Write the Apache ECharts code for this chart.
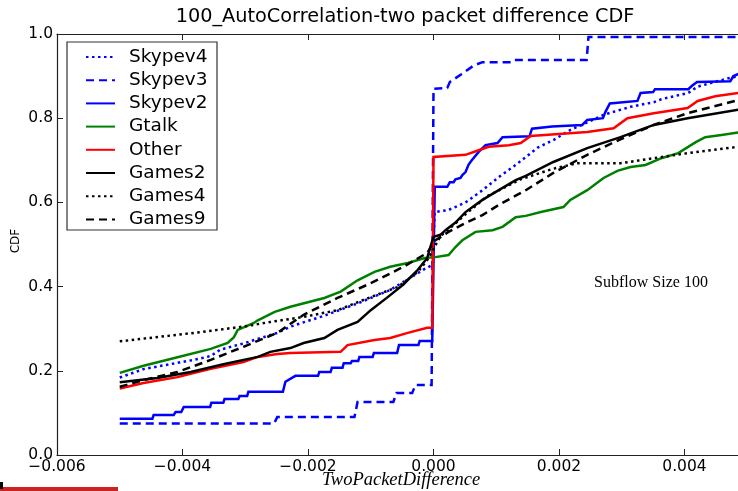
<!DOCTYPE html>
<html>
<head>
<meta charset="utf-8">
<script src="https://cdn.jsdelivr.net/npm/echarts@6/dist/echarts.min.js"></script>
<style>
  html, body { margin: 0; padding: 0; background: #fff; }
  #chart { width: 738px; height: 491px; }
</style>
</head>
<body>
<div id="chart"></div>
<script>
// CDF of the two-packet difference, subflow size 100: [difference, cumulative fraction]
const skypev4 = [
  [-0.005, 0.184], [-0.00462, 0.204], [-0.00408, 0.219], [-0.00382, 0.226], [-0.00355, 0.235],
  [-0.0034, 0.25], [-0.00303, 0.265], [-0.00249, 0.29], [-0.00228, 0.305], [-0.00174, 0.331],
  [-0.00121, 0.36], [-0.00069, 0.392], [-0.00014, 0.442], [-0.00002, 0.451], [0.00002, 0.577],
  [0.00024, 0.582], [0.00051, 0.6], [0.00078, 0.629], [0.00104, 0.66], [0.00131, 0.689],
  [0.00166, 0.73], [0.00191, 0.748], [0.00218, 0.772], [0.00245, 0.79], [0.00271, 0.808],
  [0.00298, 0.82], [0.00314, 0.827], [0.00351, 0.838], [0.00363, 0.845], [0.00406, 0.86],
  [0.00421, 0.875], [0.0047, 0.895], [0.00486, 0.9]
];
const skypev3 = [
  [-0.005, 0.075], [-0.00254, 0.075], [-0.00249, 0.09], [-0.00126, 0.09], [-0.00121, 0.126],
  [-0.00064, 0.126], [-0.00059, 0.147], [-0.00034, 0.147], [-0.00029, 0.166], [-0.00003, 0.166],
  [0.0, 0.87], [0.00022, 0.872], [0.00026, 0.886], [0.00045, 0.905], [0.00064, 0.925],
  [0.00078, 0.933], [0.00124, 0.933], [0.00128, 0.938], [0.00244, 0.938], [0.00247, 0.993],
  [0.00486, 0.993]
];
const skypev2 = [
  [-0.005, 0.086], [-0.00448, 0.086], [-0.00446, 0.095], [-0.00414, 0.095], [-0.00411, 0.102],
  [-0.00402, 0.102], [-0.00398, 0.114], [-0.00356, 0.114], [-0.00354, 0.124], [-0.00335, 0.124],
  [-0.00333, 0.133], [-0.00311, 0.133], [-0.00309, 0.14], [-0.00297, 0.14], [-0.00295, 0.15],
  [-0.0024, 0.15], [-0.00236, 0.174], [-0.0022, 0.188], [-0.00184, 0.188], [-0.00182, 0.197],
  [-0.00164, 0.197], [-0.00162, 0.207], [-0.00145, 0.207], [-0.00143, 0.218], [-0.00132, 0.218],
  [-0.0013, 0.223], [-0.0012, 0.223], [-0.00118, 0.233], [-0.00097, 0.233], [-0.00095, 0.242],
  [-0.00058, 0.242], [-0.00055, 0.261], [-0.00024, 0.261], [-0.00022, 0.271], [-0.00002, 0.271],
  [0.00002, 0.637], [0.00022, 0.637], [0.00026, 0.648], [0.00032, 0.648], [0.00035, 0.655],
  [0.00043, 0.658], [0.00046, 0.665], [0.00051, 0.672], [0.00056, 0.69], [0.00061, 0.7],
  [0.00072, 0.72], [0.00083, 0.736], [0.00102, 0.741], [0.0011, 0.755], [0.00153, 0.757],
  [0.00157, 0.775], [0.00189, 0.78], [0.00237, 0.784], [0.00245, 0.796], [0.0027, 0.8],
  [0.00274, 0.815], [0.00281, 0.835], [0.00325, 0.841], [0.0033, 0.86], [0.0035, 0.862],
  [0.00353, 0.869], [0.00406, 0.869], [0.00412, 0.877], [0.0042, 0.886], [0.00473, 0.888],
  [0.00478, 0.9], [0.00486, 0.905]
];
const gtalk = [
  [-0.005, 0.195], [-0.00462, 0.212], [-0.00408, 0.232], [-0.00355, 0.252], [-0.00328, 0.266],
  [-0.00318, 0.28], [-0.00312, 0.297], [-0.00287, 0.313], [-0.0028, 0.32], [-0.00253, 0.34],
  [-0.00228, 0.352], [-0.00174, 0.373], [-0.00148, 0.388], [-0.00121, 0.415], [-0.00094, 0.435],
  [-0.00069, 0.447], [-0.00041, 0.456], [-0.00014, 0.468], [0.00003, 0.47], [0.00024, 0.475],
  [0.00035, 0.494], [0.00046, 0.51], [0.00067, 0.53], [0.00094, 0.534], [0.0011, 0.542],
  [0.00131, 0.565], [0.00147, 0.568], [0.00171, 0.577], [0.00207, 0.589], [0.00218, 0.606],
  [0.00245, 0.629], [0.00271, 0.658], [0.00293, 0.675], [0.00314, 0.684], [0.00338, 0.689],
  [0.00363, 0.705], [0.0039, 0.717], [0.00418, 0.743], [0.00433, 0.755], [0.00459, 0.76],
  [0.00486, 0.766]
];
const other = [
  [-0.005, 0.158], [-0.00462, 0.171], [-0.00408, 0.185], [-0.00355, 0.205], [-0.00303, 0.221],
  [-0.0028, 0.233], [-0.00249, 0.24], [-0.00228, 0.242], [-0.00148, 0.245], [-0.00137, 0.261],
  [-0.00094, 0.273], [-0.00069, 0.278], [-0.00041, 0.29], [-0.0001, 0.302], [-0.00002, 0.302],
  [0.0, 0.708], [0.00051, 0.713], [0.00072, 0.724], [0.00088, 0.732], [0.0012, 0.736],
  [0.00139, 0.741], [0.00155, 0.758], [0.00245, 0.767], [0.00287, 0.776], [0.00309, 0.8],
  [0.00351, 0.812], [0.00405, 0.824], [0.00421, 0.841], [0.00449, 0.852], [0.00486, 0.86]
];
const games2 = [
  [-0.005, 0.173], [-0.0044, 0.183], [-0.00387, 0.197], [-0.00333, 0.216], [-0.0028, 0.233],
  [-0.0026, 0.245], [-0.00228, 0.254], [-0.00207, 0.266], [-0.00174, 0.278], [-0.00153, 0.297],
  [-0.00121, 0.316], [-0.001, 0.344], [-0.00073, 0.375], [-0.00048, 0.405], [-0.00025, 0.44],
  [-0.0001, 0.468], [-0.00005, 0.494], [0.0, 0.518], [0.00011, 0.523], [0.00019, 0.534],
  [0.00035, 0.552], [0.00051, 0.577], [0.00078, 0.606], [0.00104, 0.629], [0.00131, 0.653],
  [0.00147, 0.663], [0.00191, 0.696], [0.00245, 0.729], [0.00298, 0.755], [0.00351, 0.784],
  [0.00405, 0.8], [0.00486, 0.82]
];
const games4 = [
  [-0.005, 0.27], [-0.00382, 0.29], [-0.00303, 0.305], [-0.0026, 0.316], [-0.00207, 0.328],
  [-0.00153, 0.344], [-0.001, 0.375], [-0.00057, 0.399], [-0.00025, 0.435], [-0.0001, 0.463],
  [0.0, 0.49], [0.00011, 0.52], [0.00035, 0.55], [0.00051, 0.572], [0.00086, 0.615],
  [0.00139, 0.655], [0.00191, 0.68], [0.00229, 0.693], [0.00298, 0.693], [0.00351, 0.705],
  [0.00405, 0.717], [0.00486, 0.732]
];
const games9 = [
  [-0.005, 0.162], [-0.00462, 0.178], [-0.00408, 0.197], [-0.00355, 0.226], [-0.00303, 0.257],
  [-0.00249, 0.29], [-0.00207, 0.333], [-0.00153, 0.373], [-0.001, 0.408], [-0.00048, 0.447],
  [-0.0001, 0.48], [0.00003, 0.51], [0.00024, 0.53], [0.00051, 0.551], [0.00078, 0.57],
  [0.00104, 0.594], [0.00147, 0.629], [0.00191, 0.67], [0.00245, 0.713], [0.00298, 0.75],
  [0.00351, 0.784], [0.00405, 0.812], [0.00486, 0.843]
];

const seriesNames = ['Skypev4', 'Skypev3', 'Skypev2', 'Gtalk', 'Other', 'Games2', 'Games4', 'Games9'];
const seriesData = [skypev4, skypev3, skypev2, gtalk, other, games2, games4, games9];
const seriesColors = ['#0000ff', '#0000ff', '#0000ff', '#008000', '#ff0000', '#000000', '#000000', '#000000'];
const DOTTED = [2.5, 3.5];
const DASHED = [8, 5];
const seriesDash = [DOTTED, DASHED, 'solid', 'solid', 'solid', 'solid', DOTTED, DASHED];

const xTicks = { min: -0.006, max: 0.006, step: 0.002 };
const yTicks = { min: 0, max: 1, step: 0.2 };

const fmtX = v => {
  if (Math.abs(v) < 1e-9) return '0.000';
  return (v < 0 ? '\u2212' : '') + Math.abs(v).toFixed(3);
};

const chart = echarts.init(document.getElementById('chart'), null, { renderer: 'canvas' });

const axisLine = { show: true, onZero: false, lineStyle: { color: '#222', width: 1.2 } };
const innerTick = { show: true, inside: true, length: 6, lineStyle: { color: '#222' } };

chart.setOption({
  animation: false,
  backgroundColor: '#fff',
  // the plot box runs past the right edge of the canvas (the 0.006 end is off-screen)
  grid: { left: 57, top: 34, width: 753, height: 421, containLabel: false, outerBoundsMode: 'none' },
  xAxis: [
    {
      type: 'value', position: 'bottom',
      min: xTicks.min, max: xTicks.max, interval: xTicks.step,
      axisLine: axisLine,
      axisTick: innerTick,
      axisLabel: { formatter: fmtX, fontFamily: 'DejaVu Sans', fontSize: 15.5, color: '#000', margin: 4 },
      splitLine: { show: false }
    },
    {
      type: 'value', position: 'top',
      min: xTicks.min, max: xTicks.max, interval: xTicks.step,
      axisLine: axisLine,
      axisTick: innerTick,
      axisLabel: { show: false },
      splitLine: { show: false }
    }
  ],
  yAxis: {
    type: 'value',
    min: yTicks.min, max: yTicks.max, interval: yTicks.step,
    axisLine: axisLine,
    axisTick: innerTick,
    axisLabel: { formatter: v => v.toFixed(1), fontFamily: 'DejaVu Sans', fontSize: 15.5, color: '#000', margin: 4 },
    splitLine: { show: false }
  },
  legend: {
    orient: 'vertical',
    left: 80, top: 42.5,
    itemWidth: 29, itemHeight: 14, itemGap: 4.2,
    selectedMode: false,
    itemStyle: { opacity: 0 },
    textStyle: { fontFamily: 'DejaVu Sans', fontSize: 18.5, color: '#000', padding: [0, 0, 0, 9] },
    data: seriesNames
  },
  graphic: [
    { type: 'rect', z: 1, shape: { x: 67, y: 42, width: 150, height: 188 },
      style: { fill: 'none', stroke: '#333', lineWidth: 1.2 } },
    { type: 'text', x: 405, y: 17, style: { text: '100_AutoCorrelation-two packet difference CDF',
      fontFamily: 'DejaVu Sans', fontSize: 19.3, fill: '#000', align: 'center', verticalAlign: 'middle' } },
    { type: 'text', x: 401, y: 480, style: { text: 'TwoPacketDifference',
      fontFamily: 'Liberation Serif', fontStyle: 'italic', fontSize: 18.5, fill: '#000', align: 'center', verticalAlign: 'middle' } },
    { type: 'text', x: 16, y: 241, rotation: Math.PI / 2, style: { text: 'CDF',
      fontFamily: 'DejaVu Sans', fontSize: 12, fill: '#000', align: 'center', verticalAlign: 'middle' } },
    { type: 'text', x: 651, y: 283, style: { text: 'Subflow Size 100',
      fontFamily: 'Liberation Serif', fontSize: 16, fill: '#000', align: 'center', verticalAlign: 'middle' } },
    { type: 'rect', shape: { x: 0, y: 487, width: 118, height: 4 }, style: { fill: '#cc2222' } },
    { type: 'rect', shape: { x: 0, y: 482, width: 3, height: 7 }, style: { fill: '#000' } }
  ],
  series: seriesNames.map((name, i) => ({
    name: name,
    type: 'line',
    xAxisIndex: 0,
    data: seriesData[i],
    symbol: 'none',
    showSymbol: false,
    clip: true,
    lineStyle: { color: seriesColors[i], width: 2.5, type: seriesDash[i], cap: 'butt', join: 'miter' },
    itemStyle: { color: seriesColors[i] },
    emphasis: { disabled: true }
  }))
});
</script>
</body>
</html>
